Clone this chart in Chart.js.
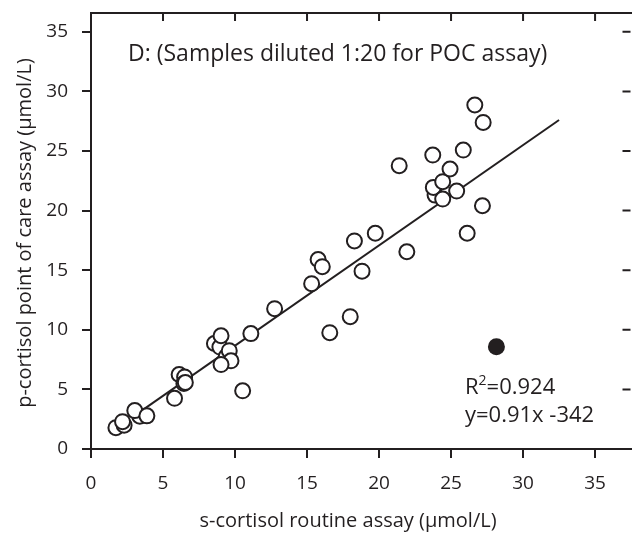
<!DOCTYPE html>
<html>
<head>
<meta charset="utf-8">
<script src="https://cdn.jsdelivr.net/npm/chart.js@4/dist/chart.umd.min.js"></script>
<style>
  html, body { margin: 0; padding: 0; background: #fff; overflow: hidden; }
  #wrap { width: 640px; height: 533px; }
</style>
</head>
<body>
<div id="wrap"><canvas id="cortisolChart" width="640" height="533"></canvas></div>
<script>
// s-cortisol routine (x) vs p-cortisol POC (y), µmol/L
const routineX = [1.73, 2.3, 2.19, 3.39, 3.04, 3.88, 5.8, 6.12, 6.5, 6.45, 6.55,
  8.57, 8.95, 9.03, 9.38, 9.6, 9.72, 9.03, 10.53, 11.1, 12.75, 15.32, 15.77, 16.06,
  16.58, 18.0, 18.29, 18.82, 19.74, 21.4, 21.93, 23.73, 23.89, 23.77, 24.42, 24.42,
  24.93, 25.39, 25.85, 26.12, 26.65, 27.23, 27.18];
const pocY = [1.79, 2.0, 2.29, 2.75, 3.22, 2.78, 4.25, 6.25, 6.05, 5.5, 5.58,
  8.85, 8.55, 9.5, 7.74, 8.25, 7.4, 7.08, 4.88, 9.68, 11.77, 13.87, 15.9, 15.3,
  9.76, 11.1, 17.46, 14.92, 18.1, 23.77, 16.55, 24.66, 21.3, 21.95, 22.43, 20.97,
  23.49, 21.64, 25.08, 18.1, 28.86, 27.4, 20.41];

// excluded sample (filled dot)
const outlierX = [28.15];
const outlierY = [8.58];

// regression line end points
const fitX = [3.5, 32.5];
const fitY = [3.2, 27.6];

const xTicks = [0, 5, 10, 15, 20, 25, 30, 35];
const yTicks = [0, 5, 10, 15, 20, 25, 30, 35];

const panelTitle = 'D: (Samples diluted 1:20 for POC assay)';
const xTitle = 's-cortisol routine assay (µmol/L)';
const yTitle = 'p-cortisol point of care assay (µmol/L)';
const r2Text = '0.924';
const eqText = 'y=0.91x -342';

const ink = '#231f20';
const fontFam = '"Open Sans", sans-serif';

const toPts = (xs, ys) => xs.map((x, i) => ({ x: x, y: ys[i] }));

const frameAndText = {
  id: 'frameAndText',
  afterDraw(chart) {
    const ctx = chart.ctx;
    const a = chart.chartArea;
    const xs = chart.scales.x, ys = chart.scales.y;
    ctx.save();
    ctx.strokeStyle = ink;
    ctx.lineWidth = 2;
    // top frame line
    ctx.beginPath();
    ctx.moveTo(a.left - 1, a.top);
    ctx.lineTo(chart.width, a.top);
    ctx.stroke();
    // inward ticks on top and right
    ctx.beginPath();
    xTicks.forEach(v => {
      if (v === 0) return;
      const px = xs.getPixelForValue(v);
      ctx.moveTo(px, a.top);
      ctx.lineTo(px, a.top + 8);
    });
    yTicks.forEach(v => {
      if (v === 0) return;
      const py = ys.getPixelForValue(v);
      ctx.moveTo(a.right, py);
      ctx.lineTo(a.right - 8, py);
    });
    ctx.stroke();

    ctx.fillStyle = ink;
    ctx.textAlign = 'left';
    ctx.textBaseline = 'alphabetic';
    ctx.font = '23px ' + fontFam;
    ctx.fillText(panelTitle, 128, 61);

    // R² = ...
    ctx.font = '22px ' + fontFam;
    let x0 = 465;
    ctx.fillText('R', x0, 394);
    x0 += ctx.measureText('R').width;
    ctx.font = '14px ' + fontFam;
    ctx.fillText('2', x0, 385);
    x0 += ctx.measureText('2').width;
    ctx.font = '22px ' + fontFam;
    ctx.fillText('=' + r2Text, x0, 394);
    ctx.fillText(eqText, 465, 422);

    // axis titles
    ctx.font = '20px ' + fontFam;
    ctx.textAlign = 'center';
    ctx.fillText(xTitle, 348, 527);
    ctx.translate(31, 233);
    ctx.rotate(-Math.PI / 2);
    ctx.fillText(yTitle, 0, 0);
    ctx.restore();
  }
};

const canvas = document.getElementById('cortisolChart');
new Chart(canvas.getContext('2d'), {
  data: {
    datasets: [
      {
        type: 'scatter',
        data: toPts(routineX, pocY),
        pointRadius: 7.5,
        pointBorderWidth: 2,
        pointBorderColor: ink,
        pointBackgroundColor: '#ffffff',
        order: 1
      },
      {
        type: 'scatter',
        data: toPts(outlierX, outlierY),
        pointRadius: 8.5,
        pointBorderWidth: 0,
        pointBackgroundColor: ink,
        order: 0
      },
      {
        type: 'line',
        data: toPts(fitX, fitY),
        borderColor: ink,
        borderWidth: 2,
        pointRadius: 0,
        fill: false,
        order: 2
      }
    ]
  },
  options: {
    responsive: false,
    animation: false,
    layout: { padding: { top: 13, right: 7, left: 0, bottom: 0 } },
    plugins: { legend: { display: false }, tooltip: { enabled: false } },
    scales: {
      x: {
        type: 'linear',
        min: 0,
        max: 37.46,
        afterFit: s => { s.height = 84; s.paddingLeft = 0; s.paddingRight = 0; },
        afterBuildTicks: s => { s.ticks = xTicks.map(v => ({ value: v })); },
        grid: { display: true, drawOnChartArea: false, drawTicks: true, tickLength: 9, lineWidth: 2, color: ink },
        border: { display: true, width: 2, color: ink },
        ticks: { color: ink, padding: 14, maxRotation: 0, font: { family: fontFam, size: 19 } }
      },
      y: {
        type: 'linear',
        min: 0,
        max: 36.58,
        afterFit: s => { s.width = 91; s.paddingTop = 0; s.paddingBottom = 0; },
        afterBuildTicks: s => { s.ticks = yTicks.map(v => ({ value: v })); },
        grid: { display: true, drawOnChartArea: false, drawTicks: true, tickLength: 9, lineWidth: 2, color: ink },
        border: { display: true, width: 2, color: ink },
        ticks: { color: ink, padding: 14, font: { family: fontFam, size: 19 } }
      }
    }
  },
  plugins: [frameAndText]
});
</script>
</body>
</html>
